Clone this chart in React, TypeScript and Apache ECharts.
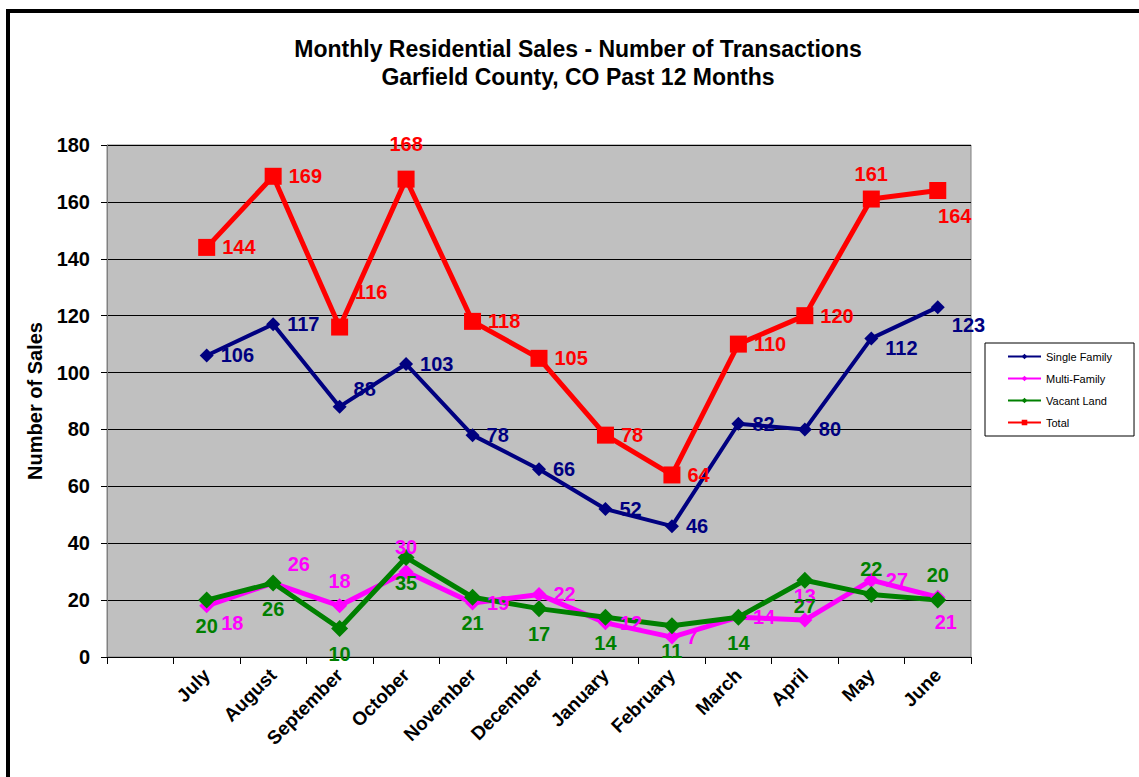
import React, { useEffect, useRef } from "react";
import * as echarts from "echarts";

const months = ["July", "August", "September", "October", "November", "December", "January", "February", "March", "April", "May", "June"];
const singleFamily = [106, 117, 88, 103, 78, 66, 52, 46, 82, 80, 112, 123];
const multiFamily = [18, 26, 18, 30, 19, 22, 12, 7, 14, 13, 27, 21];
const vacantLand = [20, 26, 10, 35, 21, 17, 14, 11, 14, 27, 22, 20];
const total = [144, 169, 116, 168, 118, 105, 78, 64, 110, 120, 161, 164];
const yTicks = { min: 0, max: 180, interval: 20 };

// label placement per point: [position, dx, dy]
type P = [string, number, number];
const singlePos: P[] = [["right", 0, 0], ["right", 0, 0], ["right", 0, -18], ["right", 0, 0], ["right", 0, 0], ["right", 0, 0], ["right", 0, 0], ["right", 0, 0], ["right", 0, 0], ["right", 0, 0], ["right", 0, 10], ["right", 0, 18]];
const multiPos: P[] = [["right", 0, 17], ["right", 0, -19], ["top", 0, 0], ["top", 0, 0], ["right", 0, 0], ["right", 0, 0], ["right", 0, 0], ["right", 0, 0], ["right", 0, 0], ["top", 0, 0], ["right", 0, 0], ["bottom", 8, 0]];
const vacantPos: P[] = [["bottom", 0, 0], ["bottom", 0, 0], ["bottom", 0, 0], ["bottom", 0, 0], ["bottom", 0, 0], ["bottom", 0, 0], ["bottom", 0, 0], ["bottom", 0, 0], ["bottom", 0, 0], ["bottom", 0, 0], ["top", 0, 0], ["top", 0, 0]];
const totalPos: P[] = [["right", 0, 0], ["right", 0, 0], ["right", 0, -35], ["top", 0, -10], ["right", 0, 0], ["right", 0, 0], ["right", 0, 0], ["right", 0, 0], ["right", 0, 0], ["right", 0, 0], ["top", 0, 0], ["bottom", 17, 0]];

const FONT = "'Liberation Sans', Arial, sans-serif";

function build(values: number[], pos: P[]) {
  return [null as any].concat(
    values.map((v, i) => ({
      value: v,
      label: { position: pos[i][0], offset: [pos[i][1], pos[i][2]] },
    }))
  );
}

function lineSeries(name: string, values: number[], pos: P[], color: string, symbol: string, size: number, width: number) {
  return {
    name,
    type: "line",
    data: build(values, pos),
    symbol,
    symbolSize: size,
    connectNulls: false,
    lineStyle: { color, width },
    itemStyle: { color },
    label: {
      show: true,
      color,
      fontFamily: FONT,
      fontWeight: "bold",
      fontSize: 20,
      distance: 7,
    },
  };
}

export default function App() {
  const ref = useRef<HTMLDivElement>(null);
  useEffect(() => {
    document.body.style.margin = "0";
    const chart = echarts.init(ref.current!, null, { renderer: "svg" });
    chart.setOption({
      animation: false,
      backgroundColor: "#ffffff",
      title: {
        text: "Monthly Residential Sales - Number of Transactions\nGarfield County, CO Past 12 Months",
        left: 573,
        textAlign: "center",
        top: 30,
        textStyle: { fontFamily: FONT, fontWeight: "bold", fontSize: 23, color: "#000", lineHeight: 28 },
      },
      graphic: [
        {
          type: "polyline",
          shape: { points: [[8, 777], [8, 11], [1139, 11]] },
          style: { stroke: "#000", lineWidth: 4, fill: "none" },
        },
      ],
      legend: {
        orient: "vertical",
        left: 985,
        top: 343,
        padding: [8, 22, 8, 22],
        borderColor: "#000",
        borderWidth: 1,
        itemWidth: 33,
        itemHeight: 7,
        itemGap: 11,
        textStyle: { fontFamily: FONT, fontSize: 11, color: "#000" },
        data: ["Single Family", "Multi-Family", "Vacant Land", "Total"],
      },
      grid: { left: 107, top: 145, right: 168, bottom: 120, show: true, backgroundColor: "#c0c0c0", borderColor: "#808080", borderWidth: 1 },
      xAxis: {
        type: "category",
        data: [""].concat(months),
        boundaryGap: true,
        axisLine: { lineStyle: { color: "#000", width: 1 } },
        axisTick: { show: true, length: 7, lineStyle: { color: "#000" } },
        axisLabel: {
          interval: 0,
          rotate: 45,
          margin: 15,
          color: "#000",
          fontFamily: FONT,
          fontWeight: "bold",
          fontSize: 19,
        },
      },
      yAxis: {
        type: "value",
        min: yTicks.min,
        max: yTicks.max,
        interval: yTicks.interval,
        name: "Number of Sales",
        nameLocation: "middle",
        nameGap: 62,
        nameTextStyle: { fontFamily: FONT, fontWeight: "bold", fontSize: 20, color: "#000" },
        axisLine: { show: true, lineStyle: { color: "#808080" } },
        axisTick: { show: true, length: 6, lineStyle: { color: "#000" } },
        splitLine: { lineStyle: { color: "#000", width: 1 } },
        axisLabel: { color: "#000", fontFamily: FONT, fontWeight: "bold", fontSize: 20, margin: 17 },
      },
      series: [
        lineSeries("Single Family", singleFamily, singlePos, "#000080", "diamond", 14, 4),
        lineSeries("Multi-Family", multiFamily, multiPos, "#ff00ff", "diamond", 15, 5),
        lineSeries("Vacant Land", vacantLand, vacantPos, "#008000", "diamond", 17, 5),
        lineSeries("Total", total, totalPos, "#ff0000", "rect", 17, 5),
      ],
    });
    return () => chart.dispose();
  }, []);
  return <div ref={ref} style={{ width: 1139, height: 777 }} />;
}
